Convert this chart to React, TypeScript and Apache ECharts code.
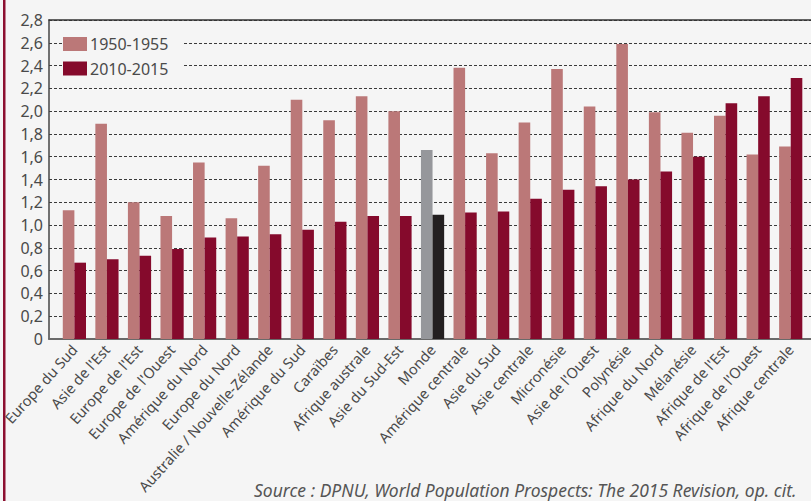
import React, { useEffect, useRef } from "react";
import * as echarts from "echarts";

const categories = [
  "Europe du Sud", "Asie de l'Est", "Europe de l'Est", "Europe de l'Ouest", "Amérique du Nord",
  "Europe du Nord", "Australie / Nouvelle-Zélande", "Amérique du Sud", "Caraïbes", "Afrique australe",
  "Asie du Sud-Est", "Monde", "Amérique centrale", "Asie du Sud", "Asie centrale", "Micronésie",
  "Asie de l'Ouest", "Polynésie", "Afrique du Nord", "Mélanésie", "Afrique de l'Est",
  "Afrique de l'Ouest", "Afrique centrale",
];
const values1950 = [1.13, 1.89, 1.2, 1.08, 1.55, 1.06, 1.52, 2.1, 1.92, 2.13, 2.0, 1.66, 2.38, 1.63, 1.9, 2.37, 2.04, 2.59, 1.99, 1.81, 1.96, 1.62, 1.69];
const values2010 = [0.67, 0.7, 0.73, 0.79, 0.89, 0.9, 0.92, 0.96, 1.03, 1.08, 1.08, 1.09, 1.11, 1.12, 1.23, 1.31, 1.34, 1.4, 1.47, 1.6, 2.07, 2.13, 2.29];
const seriesNames = ["1950-1955", "2010-2015"];
const highlighted = "Monde";
const yTicks = { min: 0, max: 2.8, interval: 0.2 };
const sourceText = "Source : DPNU, World Population Prospects: The 2015 Revision, op. cit.";

const FONT = "'Noto Sans', sans-serif";
const C1 = "#bb7878";
const C2 = "#850a2c";
const H1 = "#96979b";
const H2 = "#231f20";

export default function App() {
  const ref = useRef<HTMLDivElement>(null);
  useEffect(() => {
    const chart = echarts.init(ref.current!, null, { renderer: "svg" });
    const mk = (vals: number[], hl: string) =>
      vals.map((v, i) => (categories[i] === highlighted ? { value: v, itemStyle: { color: hl } } : v));
    chart.setOption({
      animation: false,
      backgroundColor: "#f5f5f5",
      textStyle: { fontFamily: FONT },
      grid: [
        { left: 49, right: 0, top: 20, bottom: 162 },
        { left: 58, right: 4, top: 20, bottom: 162 },
      ],
      legend: {
        orient: "vertical",
        left: 62,
        top: 35,
        itemWidth: 24,
        itemHeight: 14,
        itemGap: 8.5,
        icon: "rect",
        padding: [1, 14, 1, 1],
        backgroundColor: "#f5f5f5",
        textStyle: { fontFamily: FONT, fontSize: 16, color: "#4a4a4a", padding: [0, 0, 0, -2] },
        data: seriesNames,
      },
      xAxis: [
        {
          gridIndex: 0, type: "value", min: 0, max: 1, position: "bottom",
          axisLine: { show: true, lineStyle: { color: "#6a6a6a", width: 2 } },
          axisTick: { show: false }, axisLabel: { show: false }, splitLine: { show: false },
        },
        {
          gridIndex: 0, type: "value", min: 0, max: 1, position: "top",
          axisLine: { show: true, lineStyle: { color: "#333", width: 1.5 } },
          axisTick: { show: false }, axisLabel: { show: false }, splitLine: { show: false },
        },
        {
          gridIndex: 1, type: "category", data: categories,
          axisLine: { show: false }, axisTick: { show: false },
          axisLabel: {
            interval: 0, rotate: 48, margin: 8, fontFamily: FONT, fontSize: 14.5, color: "#4a4a4a",
          },
        },
      ],
      yAxis: [
        {
          gridIndex: 0, type: "value", ...yTicks,
          axisLine: { show: true, lineStyle: { color: "#444", width: 1.5 } },
          axisTick: { show: false },
          axisLabel: {
            margin: 6, fontFamily: FONT, fontSize: 16, color: "#4a4a4a",
            formatter: (v: number) => (v === 0 ? "0" : v.toFixed(1).replace(".", ",")),
          },
          splitLine: { show: true, lineStyle: { color: "#3a3a3a", type: [3, 2], width: 1 } },
        },
        {
          gridIndex: 1, type: "value", ...yTicks, show: false, splitLine: { show: false },
        },
      ],
      series: [
        {
          name: seriesNames[0], type: "bar", xAxisIndex: 2, yAxisIndex: 1,
          data: mk(values1950, H1), itemStyle: { color: C1 }, barWidth: 11.6, barGap: "0%",
        },
        {
          name: seriesNames[1], type: "bar", xAxisIndex: 2, yAxisIndex: 1,
          data: mk(values2010, H2), itemStyle: { color: C2 }, barWidth: 11.6, barGap: "0%",
        },
      ],
      graphic: [
        { type: "rect", left: 3, top: 0, shape: { width: 2.5, height: 501 }, style: { fill: "#8c0f30" } },
        {
          type: "text", left: 254, top: 481,
          style: { text: sourceText, font: `italic 17.5px ${FONT}`, fill: "#555" },
        },
      ],
    });
    return () => chart.dispose();
  }, []);
  return (
    <div
      ref={ref}
      style={{ position: "absolute", left: 0, top: 0, width: 811, height: 501, background: "#f5f5f5" }}
    />
  );
}
